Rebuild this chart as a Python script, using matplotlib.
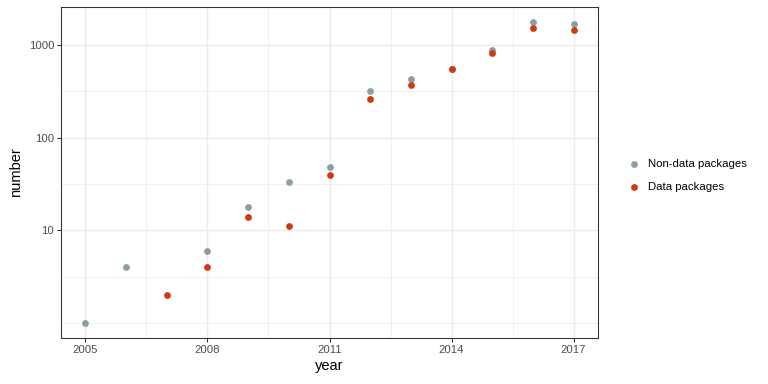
import numpy as np
import matplotlib
matplotlib.use("Agg")
import matplotlib.pyplot as plt

# packages per year
years_nondata = [2005, 2006, 2008, 2009, 2010, 2011, 2012, 2013, 2014, 2015, 2016, 2017]
nondata = [1, 4, 6, 18, 33, 48, 318, 432, 550, 880, 1760, 1690]
years_data = [2007, 2008, 2009, 2010, 2011, 2012, 2013, 2014, 2015, 2016, 2017]
data = [2, 4, 14, 11, 39, 262, 365, 552, 825, 1520, 1440]

grey = "#8B9DA5"
red = "#D03A12"

plt.rcParams['font.family'] = ['Liberation Sans', 'DejaVu Sans']

fig = plt.figure(figsize=(8, 4), dpi=96)
ax = fig.add_axes([61/768, 46/384, 537/768, 331/384])

ax.scatter(years_nondata, nondata, s=26, color=grey, label="Non-data packages", zorder=3, linewidths=0)
ax.scatter(years_data, data, s=26, color=red, label="Data packages", zorder=3, linewidths=0)

ax.set_yscale("log")
lo, hi = 0, np.log10(max(nondata))
pad = (hi - lo) * 0.05
ax.set_ylim(10**(lo - pad), 10**(hi + pad))
ax.set_xlim(2005 - 0.6, 2017 + 0.6)

ax.set_yticks([10, 100, 1000])
ax.set_yticklabels(["10", "100", "1000"])
ax.set_yticks([1, 10**0.5, 10**1.5, 10**2.5], minor=True)
ax.yaxis.set_minor_formatter(matplotlib.ticker.NullFormatter())
ax.set_xticks([2005, 2008, 2011, 2014, 2017])
ax.set_xticks([2006.5, 2009.5, 2012.5, 2015.5], minor=True)

ax.grid(which="major", color="#EBEBEB", linewidth=1.1, zorder=0)
ax.grid(which="minor", color="#EBEBEB", linewidth=0.55, zorder=0)
ax.set_axisbelow(True)
ax.tick_params(which="minor", length=0)
ax.tick_params(which="major", length=3, color="#333333", labelsize=8.5, labelcolor="#4D4D4D", pad=2)
for s in ax.spines.values():
    s.set_color("#333333")
    s.set_linewidth(0.8)

ax.set_xlabel("year", fontsize=11, labelpad=3)
ax.set_ylabel("number", fontsize=11, labelpad=4)

leg = fig.legend(loc="center left", bbox_to_anchor=(612/768, 0.543), frameon=False,
                 fontsize=8.5, handletextpad=0.3, markerscale=1.0, labelspacing=1.1)

fig.savefig("out.png", dpi=96)
